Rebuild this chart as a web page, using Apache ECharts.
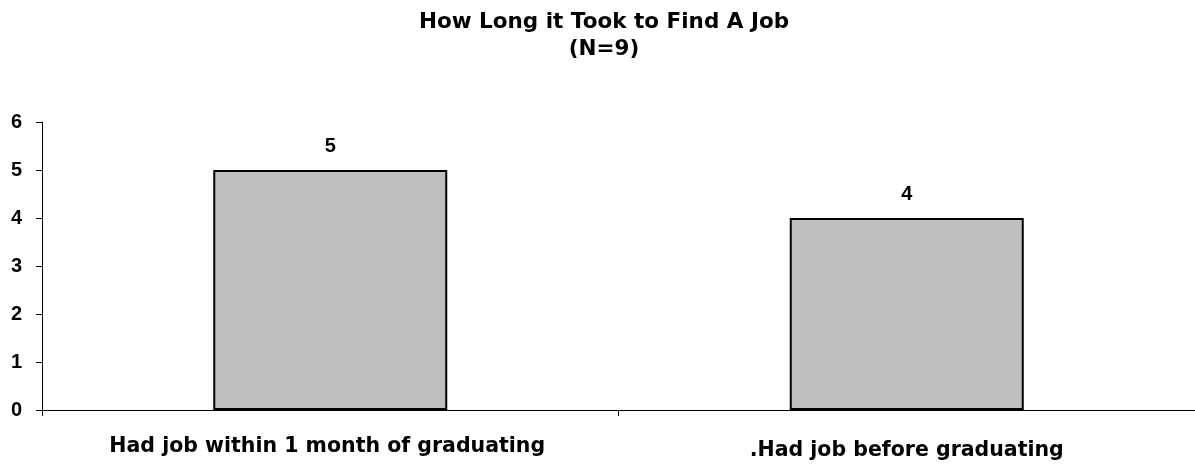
<!DOCTYPE html>
<html>
<head>
<meta charset="utf-8">
<script src="https://cdn.jsdelivr.net/npm/echarts@6/dist/echarts.min.js"></script>
<style>
html,body{margin:0;padding:0;background:#fff;}
#chart{width:1195px;height:468px;}
</style>
</head>
<body>
<div id="chart"></div>
<script>
const titleText = 'How Long it Took to Find A Job';
const subtitleText = '(N=9)';
const categories = ['Had job within 1 month of graduating', '.Had job before graduating'];
const values = [5, 4];
const yTicks = [0, 1, 2, 3, 4, 5, 6];

const FONT = '"Liberation Sans", Arial, sans-serif';
const TFONT = '"DejaVu Sans", "Liberation Sans", Arial, sans-serif';
const chart = echarts.init(document.getElementById('chart'), null, {renderer: 'canvas'});
chart.setOption({
  backgroundColor: '#ffffff',
  animation: false,
  title: {
    text: titleText + '\n' + subtitleText,
    left: 599,
    top: 4,
    textAlign: 'center',
    textStyle: {fontFamily: TFONT, fontWeight: 'bold', fontSize: 21.5, color: '#000', lineHeight: 27}
  },
  grid: {left: 42, right: -1, top: 122, bottom: 58, containLabel: false},
  xAxis: {
    type: 'category',
    data: [
      {value: categories[0], textStyle: {padding: [6, 6, 0, 0]}},
      {value: categories[1], textStyle: {padding: [10, 0, 0, 0]}}
    ],
    axisLine: {lineStyle: {color: '#000', width: 1}},
    axisTick: {show: true, length: 6, lineStyle: {color: '#000'}},
    axisLabel: {fontFamily: TFONT, fontWeight: 'bold', fontSize: 20.5, color: '#000', margin: 20}
  },
  yAxis: {
    type: 'value',
    min: yTicks[0],
    max: yTicks[yTicks.length - 1],
    interval: 1,
    axisLine: {show: true, lineStyle: {color: '#000', width: 1}},
    axisTick: {show: true, length: 6, lineStyle: {color: '#000'}},
    splitLine: {show: false},
    axisLabel: {fontFamily: FONT, fontWeight: 'bold', fontSize: 20, color: '#000', margin: 20}
  },
  series: [{
    type: 'bar',
    data: values,
    barWidth: 234,
    itemStyle: {color: '#bfbfbf', borderColor: '#000', borderWidth: 2},
    label: {show: true, position: 'top', distance: 14, fontFamily: FONT, fontWeight: 'bold', fontSize: 20, color: '#000'}
  }]
});
</script>
</body>
</html>
